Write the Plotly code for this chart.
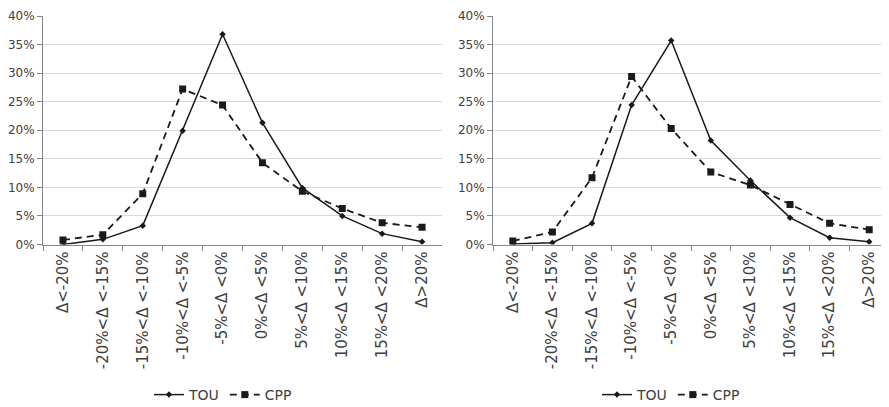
import plotly.graph_objects as go

categories = ["Δ<-20%", "-20%<Δ <-15%", "-15%<Δ <-10%", "-10%<Δ <-5%", "-5%<Δ <0%",
              "0%<Δ <5%", "5%<Δ <10%", "10%<Δ <15%", "15%<Δ <20%", "Δ>20%"]

left_tou = [0.000, 0.009, 0.033, 0.199, 0.368, 0.213, 0.099, 0.050, 0.019, 0.005]
left_cpp = [0.008, 0.017, 0.089, 0.272, 0.244, 0.143, 0.093, 0.063, 0.038, 0.030]
right_tou = [0.001, 0.003, 0.037, 0.244, 0.357, 0.182, 0.112, 0.047, 0.012, 0.005]
right_cpp = [0.006, 0.022, 0.117, 0.294, 0.203, 0.127, 0.104, 0.070, 0.037, 0.026]

# The page body has an 8px default margin, so the figure is drawn 8px in.
OFF = 8
W, H = 889 - OFF, 407 - OFF
FONT = "DejaVu Sans, sans-serif"
TXT = "#404040"

fig = go.Figure()

def add_pair(tou, cpp, xa, ya, lg):
    fig.add_trace(go.Scatter(
        x=categories, y=tou, name="TOU", mode="lines+markers",
        line=dict(color="#1a1a1a", width=1.5),
        marker=dict(symbol="diamond", size=5, color="#1a1a1a"),
        xaxis=xa, yaxis=ya, legend=lg))
    fig.add_trace(go.Scatter(
        x=categories, y=cpp, name="CPP", mode="lines+markers",
        line=dict(color="#1a1a1a", width=1.8, dash="7px,5px"),
        marker=dict(symbol="square", size=7, color="#1a1a1a"),
        xaxis=xa, yaxis=ya, legend=lg))

add_pair(left_tou, left_cpp, "x", "y", "legend")
add_pair(right_tou, right_cpp, "x2", "y2", "legend2")

def px_x(p):
    return (p - OFF) / W

def px_y(p):
    return (H - (p - OFF)) / H

ydom = [px_y(244.5), px_y(16)]
xd1 = [px_x(43), px_x(442)]
xd2 = [px_x(493), 1.0]

xcommon = dict(type="category", range=[-0.5, 9.5], tickson="boundaries",
               ticks="outside", ticklen=5, tickcolor="#868686",
               showline=True, linecolor="#868686", linewidth=1,
               showgrid=False, tickangle=-90, automargin=False,
               tickfont=dict(family=FONT, size=15, color=TXT), fixedrange=True)
ycommon = dict(range=[0, 0.40], dtick=0.05, tickformat=".0%",
               ticks="outside", ticklen=5, tickcolor="#868686",
               showline=True, linecolor="#868686", linewidth=1,
               showgrid=True, gridcolor="#d9d9d9", gridwidth=1,
               zeroline=False, automargin=False,
               tickfont=dict(family=FONT, size=12, color=TXT), fixedrange=True)

legcommon = dict(orientation="h", yanchor="middle", xanchor="center",
                 font=dict(family=FONT, size=14, color=TXT),
                 bgcolor="rgba(0,0,0,0)", itemwidth=30, tracegroupgap=0)

fig.update_layout(
    width=W, height=H,
    margin=dict(l=0, r=0, t=0, b=0, autoexpand=False),
    paper_bgcolor="white", plot_bgcolor="white",
    xaxis=dict(domain=xd1, anchor="y", **xcommon),
    yaxis=dict(domain=ydom, anchor="x", **ycommon),
    xaxis2=dict(domain=xd2, anchor="y2", **xcommon),
    yaxis2=dict(domain=ydom, anchor="x2", **ycommon),
    legend=dict(x=px_x(223), y=px_y(395), **legcommon),
    legend2=dict(x=px_x(671), y=px_y(395), **legcommon),
    showlegend=True,
)

fig.write_html("out.html")
